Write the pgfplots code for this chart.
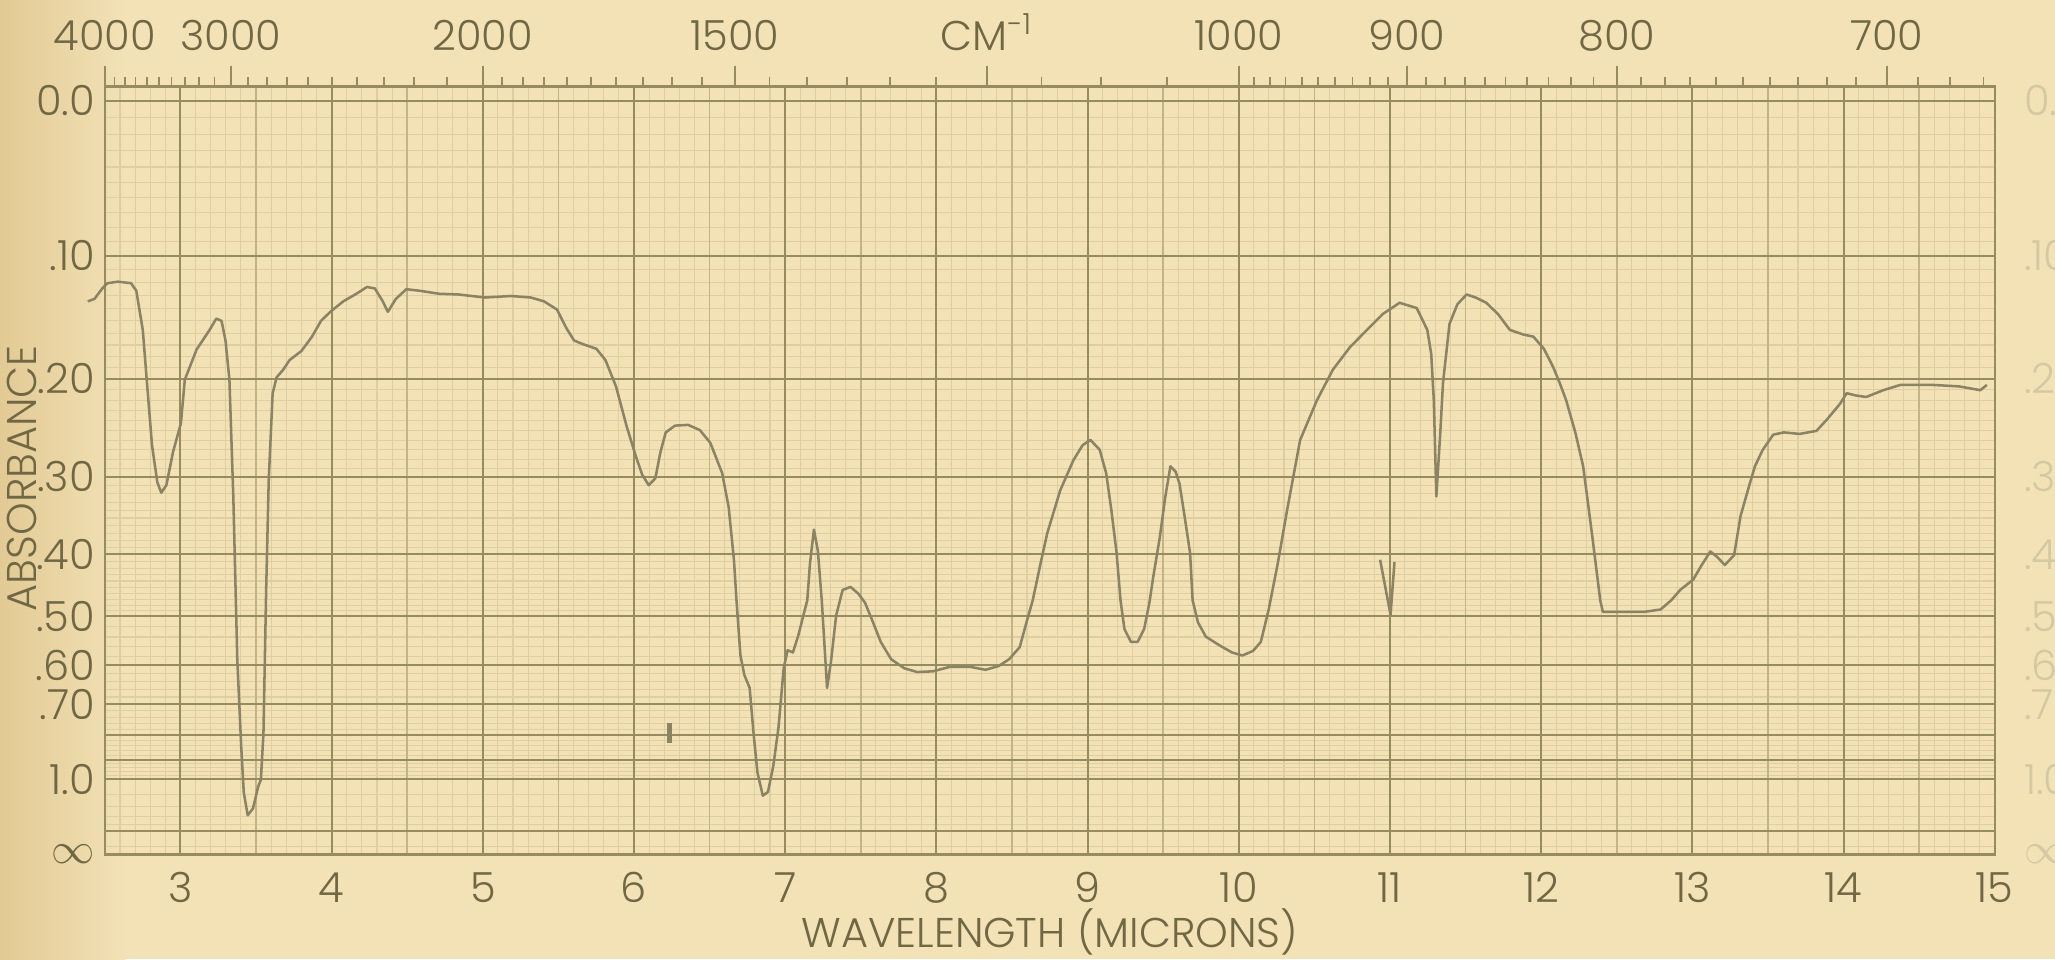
\documentclass[border=0pt]{standalone}
\usepackage{pgfplots}
\pgfplotsset{compat=1.18}
\usepackage{fontspec}
\setmainfont{Poppins}[UprightFont=* Light]

\definecolor{paper}{RGB}{242,226,182}
\definecolor{paperdark}{RGB}{226,202,148}
\definecolor{gfine}{RGB}{222,206,160}
\definecolor{gmid}{RGB}{194,180,132}
\definecolor{gmajor}{RGB}{150,140,96}
\definecolor{pen}{RGB}{138,132,100}
\definecolor{ink}{RGB}{112,104,68}
\definecolor{faded}{RGB}{214,200,162}

% IR spectrum, transmittance (%) against wavelength (microns)
\pgfplotstableread{
lambda T
2.387 73.4
2.431 73.7
2.483 75.1
2.517 75.8
2.587 76.0
2.673 75.8
2.708 74.8
2.751 69.6
2.777 63.0
2.812 54.3
2.847 49.4
2.873 48.0
2.907 49.0
2.951 53.4
3.003 57.2
3.029 63.0
3.107 67.0
3.193 69.6
3.237 71.1
3.272 70.8
3.298 68.2
3.324 63.0
3.350 47.3
3.376 25.9
3.402 14.3
3.419 8.2
3.445 5.2
3.480 6.1
3.514 9.0
3.532 9.9
3.549 16.0
3.567 35.1
3.584 49.7
3.610 61.2
3.636 63.3
3.679 64.3
3.722 65.6
3.800 66.8
3.870 68.7
3.930 70.8
3.991 72.0
4.078 73.4
4.164 74.4
4.234 75.3
4.286 75.1
4.338 73.4
4.372 72.0
4.424 73.7
4.494 75.0
4.580 74.8
4.710 74.4
4.840 74.3
5.014 73.9
5.187 74.1
5.317 73.9
5.404 73.4
5.491 72.3
5.551 69.9
5.603 68.2
5.664 67.7
5.751 67.1
5.811 65.6
5.881 62.1
5.950 56.9
6.011 52.9
6.054 50.4
6.097 49.0
6.141 49.9
6.175 53.4
6.210 56.0
6.271 56.9
6.358 57.0
6.436 56.3
6.505 54.6
6.583 50.6
6.626 46.1
6.661 39.1
6.678 33.7
6.704 26.4
6.730 23.8
6.765 22.1
6.791 16.0
6.817 10.8
6.852 7.8
6.886 8.3
6.921 11.7
6.956 16.9
6.990 24.7
7.016 27.1
7.051 26.8
7.086 29.0
7.120 31.7
7.146 33.7
7.164 38.6
7.190 43.1
7.216 40.3
7.242 33.7
7.277 22.1
7.303 25.6
7.337 31.7
7.380 35.1
7.432 35.5
7.484 34.6
7.528 33.4
7.571 31.3
7.632 28.2
7.701 25.9
7.788 24.7
7.874 24.2
7.978 24.3
8.091 24.9
8.221 24.9
8.325 24.5
8.412 25.0
8.481 25.9
8.551 27.5
8.603 31.3
8.637 33.7
8.689 38.6
8.733 42.6
8.819 48.3
8.906 52.3
8.967 54.3
9.019 55.0
9.080 53.7
9.123 50.6
9.158 45.6
9.192 40.0
9.218 33.7
9.244 29.9
9.287 28.2
9.331 28.2
9.374 29.9
9.409 33.4
9.435 36.9
9.478 42.1
9.513 47.3
9.548 51.5
9.582 50.8
9.608 49.2
9.643 44.7
9.678 40.0
9.695 33.7
9.730 30.8
9.782 28.9
9.868 27.8
9.955 26.8
10.024 26.4
10.094 27.0
10.146 28.2
10.198 32.5
10.258 38.6
10.319 45.6
10.406 55.0
10.518 60.3
10.622 64.3
10.735 67.3
10.848 69.6
10.952 71.7
11.064 73.2
11.177 72.5
11.247 69.6
11.273 66.4
11.290 60.3
11.307 47.5
11.333 56.0
11.351 62.6
11.394 70.4
11.446 73.0
11.507 74.3
11.567 73.9
11.637 73.2
11.715 71.7
11.793 69.6
11.880 69.0
11.949 68.7
12.018 67.1
12.079 64.7
12.122 62.6
12.165 60.3
12.226 56.0
12.278 51.5
12.339 42.1
12.391 33.7
12.408 32.2
12.556 32.2
12.686 32.2
12.790 32.5
12.859 33.7
12.920 35.1
13.007 36.5
13.059 38.3
13.119 40.2
13.163 39.5
13.215 38.4
13.276 39.7
13.319 44.9
13.380 49.2
13.414 51.5
13.466 53.7
13.535 55.7
13.605 56.0
13.709 55.8
13.821 56.2
13.890 57.7
13.977 59.8
14.021 61.2
14.081 60.9
14.150 60.7
14.263 61.6
14.376 62.3
14.593 62.3
14.766 62.1
14.905 61.6
14.948 62.3
}\spectrum

% short calibration strokes made by the pen
\pgfplotstableread{
lambda T
10.935 39.1
11.004 31.8
11.030 38.8
}\markA
\pgfplotstableread{
lambda T
6.236 17.4
6.236 14.8
}\markB

\begin{document}
\begin{tikzpicture}
% paper
\fill[paper] (-1.0204,-1.0204) rectangle (18.980,8.316);
\shade[left color=paperdark, right color=paper] (-1.0204,-1.0204) rectangle (0.2,8.316);

% chart-paper ruling: x in microns, y in transmittance percent
\begin{scope}[x=1.47144cm, y=0.0733464cm, shift={(-3.6786cm,0)}]
  \foreach \l in {2.6,2.7,...,14.95}
    \draw[gfine, line width=0.3pt] (\l,0) -- (\l,101.9);
  \foreach \a in {0.01,0.02,...,0.495}
    \draw[gfine, line width=0.3pt] (2.5,{100*10^(-\a)}) -- (15,{100*10^(-\a)});
  \foreach \a in {0.52,0.54,...,0.99,1.1,1.2,1.3,1.4,2.0}
    \draw[gfine, line width=0.3pt] (2.5,{100*10^(-\a)}) -- (15,{100*10^(-\a)});
  \foreach \l in {3.5,4.5,...,14.5}
    \draw[gmid, line width=0.45pt] (\l,0) -- (\l,101.9);
  \foreach \l in {3,...,14}
    \draw[gmajor, line width=0.55pt] (\l,0) -- (\l,101.9);
  \foreach \a in {0,0.1,0.2,...,1.05,1.5}
    \draw[gmajor, line width=0.55pt] (2.5,{100*10^(-\a)}) -- (15,{100*10^(-\a)});
\end{scope}

\begin{axis}[
  at={(0,0)}, anchor=south west,
  scale only axis, width=18.393cm, height=7.474cm,
  xmin=2.5, xmax=15, ymin=0, ymax=101.9,
  axis line style={draw=gmajor, line width=0.6pt},
  major tick length=0pt,
  xtick={3,4,5,6,7,8,9,10,11,12,13,14,15},
  xticklabels={3,4,5,6,7,8,9,10,11,12,13,14,15},
  ytick={0,10,19.953,25.119,31.623,39.811,50.119,63.096,79.433,100},
  yticklabels={$\infty$,1.0,.70,.60,.50,.40,.30,.20,.10,0.0},
  tick label style={text=ink, font=\fontsize{11.5}{13}\selectfont, inner sep=0pt},
  xticklabel style={anchor=base, yshift=-0.47cm},
  yticklabel style={anchor=east, xshift=-0.09cm},
  xlabel={WAVELENGTH (MICRONS)},
  ylabel={ABSORBANCE},
  label style={text=ink, font=\fontsize{11.5}{13}\selectfont},
  xlabel style={at={(axis description cs:0.5,-0.101)}, anchor=center},
  ylabel style={at={(axis description cs:-0.044,0.49)}, anchor=center},
  clip=false,
]
\addplot[pen, line width=0.7pt, line join=round] table[x=lambda, y=T] {\spectrum};
\addplot[pen, line width=0.7pt, line join=round] table[x=lambda, y=T] {\markA};
\addplot[pen, line width=1.3pt] table[x=lambda, y=T] {\markB};
\end{axis}

% wavenumber scale along the top, faded absorbance scale on the right
\begin{axis}[
  at={(0,0)}, anchor=south west,
  scale only axis, width=18.393cm, height=7.474cm,
  xmin=2.5, xmax=15, ymin=0, ymax=101.9,
  axis line style={draw=none},
  tick align=outside,
  xtick pos=upper, xticklabel pos=upper,
  ytick pos=right, yticklabel pos=right,
  xtick={2.5,3.3333,5,6.6667,8.3333,10,11.1111,12.5,14.2857},
  xticklabels={4000,3000,2000,1500,CM\textsuperscript{-1},1000,900,800,700},
  minor xtick={2.5641,2.6316,2.7027,2.7778,2.8571,2.9412,3.0303,3.1250,3.2258,
    3.4483,3.5714,3.7037,3.8462,4.0000,4.1667,4.3478,4.5455,4.7619,
    5.1282,5.2632,5.4054,5.5556,5.7143,5.8824,6.0606,6.2500,6.4516,
    6.8966,7.1429,7.4074,7.6923,8.0000,8.6957,9.0909,9.5238,
    10.1010,10.2041,10.3093,10.4167,10.5263,10.6383,10.7527,10.8696,10.9890,
    11.2360,11.3636,11.4943,11.6279,11.7647,11.9048,12.0482,12.1951,12.3457,
    12.6582,12.8205,12.9870,13.1579,13.3333,13.5135,13.6986,13.8889,14.0845,
    14.4928,14.7059,14.9254},
  major tick length=0.2cm, minor tick length=0.09cm,
  every tick/.style={gmajor, line width=0.5pt},
  ytick={0,10,19.953,25.119,31.623,39.811,50.119,63.096,79.433,100},
  yticklabels={$\infty$,1.0,.70,.60,.50,.40,.30,.20,.10,0.0},
  ytick style={draw=none},
  tick label style={font=\fontsize{11.5}{13}\selectfont, inner sep=0pt},
  xticklabel style={text=ink, anchor=base, yshift=0.15cm},
  yticklabel style={text=faded, anchor=west, xshift=0.08cm},
]
\end{axis}

\pgfresetboundingbox
\path[use as bounding box] (-1.0204,-1.0204) rectangle (18.980,8.316);
\end{tikzpicture}
\end{document}
